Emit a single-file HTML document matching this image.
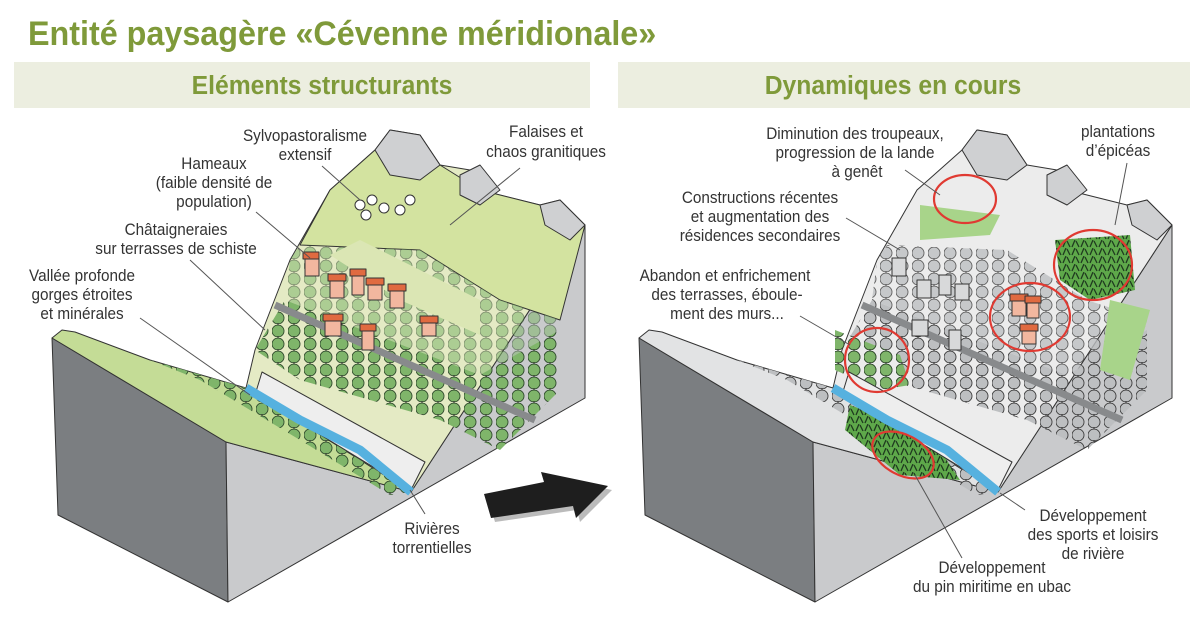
<!DOCTYPE html>
<html><head><meta charset="utf-8"><style>
html,body{margin:0;padding:0;background:#fff;}
svg{display:block;}
.t{font-family:"Liberation Sans",sans-serif;font-size:17px;fill:#333;}
.h{font-family:"Liberation Sans",sans-serif;font-weight:bold;fill:#7f9a3a;}
.ld{stroke:#555;stroke-width:1;fill:none;}
</style></head><body>
<svg width="1200" height="634" viewBox="0 0 1200 634" xmlns="http://www.w3.org/2000/svg">
<defs>
<pattern id="tg" width="16" height="13" patternUnits="userSpaceOnUse"><circle cx="6" cy="6" r="6" fill="#7fb56a" stroke="#2f4a2c" stroke-width="0.9"/><line x1="6" y1="11" x2="6" y2="13" stroke="#333"/></pattern>
<pattern id="tgr" width="16" height="13" patternUnits="userSpaceOnUse"><circle cx="6" cy="6" r="6" fill="#bdbfc1" stroke="#3c3c3c" stroke-width="0.9"/><line x1="6" y1="11" x2="6" y2="13" stroke="#333"/></pattern>
<pattern id="tdk" width="9" height="8" patternUnits="userSpaceOnUse"><rect width="9" height="8" fill="#5ea84a"/><path d="M4 0 L1 7 M5 1 L8 7" stroke="#1f3a1f" stroke-width="1.3"/></pattern>
</defs>
<rect width="1200" height="634" fill="#fff"/>
<text class="h" font-size="34" transform="translate(28 45) scale(0.95 1)">Entité paysagère «Cévenne méridionale»</text>
<rect x="14" y="62" width="576" height="46" fill="#eceee0"/>
<rect x="618" y="62" width="572" height="46" fill="#eceee0"/>
<text class="h" font-size="26" text-anchor="middle" transform="translate(322 94) scale(0.95 1)">Eléments structurants</text>
<text class="h" font-size="26" text-anchor="middle" transform="translate(893 94) scale(0.95 1)">Dynamiques en cours</text>

<!-- LEFT BLOCK -->
<g stroke="#333" stroke-width="1" stroke-linejoin="round">
<polygon points="52,338 226,442 228,602 58,515" fill="#7b7e81"/>
<polygon points="226,442 411,492 585,225 585,398 228,602" fill="#c9cacc"/>
<polygon points="52,338 62,330 75,332 150,360 246,388 411,492 226,442" fill="#c4dc96"/>
<polygon points="246,388 255,350 290,260 330,190 375,150 390,130 420,135 440,165 470,170 480,190 540,205 560,200 585,225 411,492" fill="#e4eac4"/>
<polygon points="330,190 375,150 420,135 440,165 480,190 540,205 585,225 560,320 500,300 420,250 300,245" fill="#d3e3a0"/>
<polygon points="290,260 300,245 420,250 500,300 560,320 540,390 480,375 285,300" fill="url(#tg)" stroke="none" opacity="0.55"/>
<polygon points="255,350 285,300 480,375 560,330 560,390 500,450 440,420 300,380" fill="url(#tg)" stroke="none"/>
<polygon points="150,360 246,388 411,492 390,495 300,440 200,380" fill="url(#tg)" stroke="none"/>
<polygon points="255,395 262,372 425,462 411,490" fill="#eeeeee"/>
<polygon points="330,255 360,240 480,300 480,335 400,300" fill="#dbe6b4" stroke="none"/>
<line x1="275" y1="305" x2="535" y2="420" stroke="#888a8c" stroke-width="7"/>
<path d="M246,388 L300,420 L360,450 L411,492" fill="none" stroke="#56b1df" stroke-width="9"/>
<polygon points="375,150 390,130 420,135 440,165 420,180 390,175" fill="#cfd0d2"/>
<polygon points="460,175 480,165 500,190 480,205 460,195" fill="#cfd0d2"/>
<polygon points="540,205 560,200 585,225 570,240 545,225" fill="#cfd0d2"/>
<g fill="#f2b79f"><rect x="305" y="258" width="14" height="18"/><rect x="330" y="280" width="14" height="18"/><rect x="352" y="275" width="12" height="20"/><rect x="368" y="284" width="14" height="16"/><rect x="390" y="290" width="14" height="18"/><rect x="325" y="320" width="16" height="16"/><rect x="362" y="330" width="12" height="20"/><rect x="422" y="322" width="14" height="14"/></g>
<g fill="#e06a40"><rect x="303" y="252" width="16" height="7"/><rect x="328" y="274" width="18" height="7"/><rect x="350" y="269" width="16" height="7"/><rect x="366" y="278" width="18" height="7"/><rect x="388" y="284" width="18" height="7"/><rect x="323" y="314" width="20" height="7"/><rect x="360" y="324" width="16" height="7"/><rect x="420" y="316" width="18" height="7"/></g>
<g fill="#fff"><circle cx="360" cy="205" r="5"/><circle cx="372" cy="200" r="5"/><circle cx="384" cy="208" r="5"/><circle cx="366" cy="215" r="5"/><circle cx="400" cy="210" r="5"/><circle cx="410" cy="200" r="5"/></g>
</g>

<!-- RIGHT BLOCK -->
<g stroke="#333" stroke-width="1" stroke-linejoin="round">
<polygon points="639,338 813,442 815,602 645,515" fill="#7b7e81"/>
<polygon points="813,442 998,492 1172,225 1172,398 815,602" fill="#c9cacc"/>
<polygon points="639,338 649,330 662,332 737,360 833,388 998,492 813,442" fill="#e2e3e4"/>
<polygon points="833,388 842,350 877,260 917,190 962,150 977,130 1007,135 1027,165 1057,170 1067,190 1127,205 1147,200 1172,225 998,492" fill="#ececec"/>
<polygon points="877,260 887,245 1007,250 1087,300 1147,320 1127,390 1067,375 872,300" fill="url(#tgr)" stroke="none" opacity="0.8"/>
<polygon points="842,350 872,300 1067,375 1147,330 1147,390 1087,450 1027,420 887,380" fill="url(#tgr)" stroke="none"/>
<polygon points="737,360 833,388 998,492 977,495 887,440 787,380" fill="url(#tgr)" stroke="none"/>
<polygon points="835,330 900,355 910,385 880,390 835,370" fill="url(#tg)" stroke="none"/>
<polygon points="920,205 1000,215 990,235 920,240" fill="#a8d48a" stroke="none"/>
<polygon points="1055,240 1130,235 1135,290 1090,300 1060,280" fill="url(#tdk)" stroke="none"/>
<polygon points="1110,300 1150,310 1130,380 1100,370" fill="#a8d48a" stroke="none"/>
<polygon points="850,405 930,435 960,480 900,475 845,430" fill="url(#tdk)" stroke="none"/>
<polygon points="842,395 849,372 1012,462 998,490" fill="#eeeeee"/>
<line x1="862" y1="305" x2="1122" y2="420" stroke="#888a8c" stroke-width="7"/>
<path d="M833,388 L887,420 L947,450 L998,492" fill="none" stroke="#56b1df" stroke-width="9"/>
<polygon points="962,150 977,130 1007,135 1027,165 1007,180 977,175" fill="#cfd0d2"/>
<polygon points="1047,175 1067,165 1087,190 1067,205 1047,195" fill="#cfd0d2"/>
<polygon points="1127,205 1147,200 1172,225 1157,240 1132,225" fill="#cfd0d2"/>
<g fill="#d8d9da"><rect x="892" y="258" width="14" height="18"/><rect x="917" y="280" width="14" height="18"/><rect x="939" y="275" width="12" height="20"/><rect x="955" y="284" width="14" height="16"/><rect x="912" y="320" width="16" height="16"/><rect x="949" y="330" width="12" height="20"/></g>
<g fill="#f2b79f"><rect x="1012" y="300" width="14" height="16"/><rect x="1027" y="302" width="12" height="16"/><rect x="1022" y="330" width="14" height="14"/></g>
<g fill="#e06a40"><rect x="1010" y="294" width="18" height="7"/><rect x="1025" y="296" width="16" height="7"/><rect x="1020" y="324" width="18" height="7"/></g>
</g>
<g fill="none" stroke="#e03a32" stroke-width="2.2">
<ellipse cx="965" cy="199" rx="31" ry="24"/>
<ellipse cx="1093" cy="265" rx="39" ry="35"/>
<ellipse cx="1030" cy="317" rx="40" ry="34"/>
<ellipse cx="877" cy="360" rx="32" ry="32"/>
<ellipse cx="903" cy="455" rx="33" ry="20" transform="rotate(28 903 455)"/>
</g>

<!-- arrow -->
<polygon points="488,498 548,486 545,476 612,490 580,522 577,510 495,522" fill="#bbb"/>
<polygon points="484,494 544,482 541,472 608,486 576,518 573,506 491,518" fill="#1e1e1e"/>

<!-- leaders -->
<g class="ld">
<line x1="322" y1="166" x2="360" y2="200"/><line x1="520" y1="168" x2="450" y2="225"/>
<line x1="256" y1="212" x2="310" y2="258"/><line x1="190" y1="260" x2="265" y2="330"/>
<line x1="140" y1="318" x2="250" y2="395"/><line x1="425" y1="514" x2="410" y2="490"/>
<line x1="905" y1="170" x2="940" y2="195"/><line x1="1127" y1="163" x2="1115" y2="225"/>
<line x1="846" y1="218" x2="900" y2="250"/><line x1="800" y1="316" x2="850" y2="345"/>
<line x1="1025" y1="510" x2="1000" y2="493"/><line x1="962" y1="558" x2="915" y2="475"/>
</g>

<!-- labels -->
<g class="t" text-anchor="middle">
<text transform="translate(305 141) scale(0.9 1)">Sylvopastoralisme</text><text transform="translate(305 160) scale(0.9 1)">extensif</text>
<text transform="translate(546 137) scale(0.9 1)">Falaises et</text><text transform="translate(546 157) scale(0.9 1)">chaos granitiques</text>
<text transform="translate(214 169) scale(0.9 1)">Hameaux</text><text transform="translate(214 188) scale(0.9 1)">(faible densité de</text><text transform="translate(214 207) scale(0.9 1)">population)</text>
<text transform="translate(176 235) scale(0.9 1)">Châtaigneraies</text><text transform="translate(176 254) scale(0.9 1)">sur terrasses de schiste</text>
<text transform="translate(82 281) scale(0.9 1)">Vallée profonde</text><text transform="translate(82 300) scale(0.9 1)">gorges étroites</text><text transform="translate(82 319) scale(0.9 1)">et minérales</text>
<text transform="translate(432 534) scale(0.9 1)">Rivières</text><text transform="translate(432 553) scale(0.9 1)">torrentielles</text>
<text transform="translate(855 139) scale(0.9 1)">Diminution des troupeaux,</text><text transform="translate(855 158) scale(0.9 1)">progression de la lande</text><text transform="translate(857 177) scale(0.9 1)">à genêt</text>
<text transform="translate(1118 137) scale(0.9 1)">plantations</text><text transform="translate(1118 156) scale(0.9 1)">d’épicéas</text>
<text transform="translate(760 203) scale(0.9 1)">Constructions récentes</text><text transform="translate(760 222) scale(0.9 1)">et augmentation des</text><text transform="translate(760 241) scale(0.9 1)">résidences secondaires</text>
<text transform="translate(725 281) scale(0.9 1)">Abandon et enfrichement</text><text transform="translate(727 300) scale(0.9 1)">des terrasses, éboule-</text><text transform="translate(727 319) scale(0.9 1)">ment des murs...</text>
<text transform="translate(1093 521) scale(0.9 1)">Développement</text><text transform="translate(1093 540) scale(0.9 1)">des sports et loisirs</text><text transform="translate(1093 559) scale(0.9 1)">de rivière</text>
<text transform="translate(992 573) scale(0.9 1)">Développement</text><text transform="translate(992 592) scale(0.9 1)">du pin miritime en ubac</text>
</g>
</svg>
</body></html>
